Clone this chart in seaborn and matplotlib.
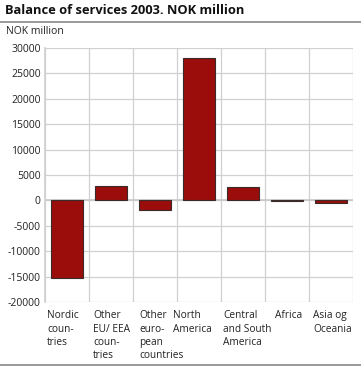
import matplotlib
matplotlib.use("Agg")
import matplotlib.pyplot as plt
import seaborn as sns
import pandas as pd

categories = ["Nordic\ncoun-\ntries", "Other\nEU/ EEA\ncoun-\ntries", "Other\neuro-\npean\ncountries",
              "North\nAmerica", "Central\nand South\nAmerica", "Africa", "Asia og\nOceania"]
values = [-15300, 2800, -1800, 28000, 2700, -100, -500]
yticks = list(range(-20000, 30001, 5000))

sns.set_theme(style="white")
plt.rcParams['font.family'] = ['Open Sans', 'DejaVu Sans']

W, H = 361, 368
fig = plt.figure(figsize=(W / 100, H / 100), dpi=100)
ax = fig.add_axes([45 / W, (H - 302) / H, (353 - 45) / W, (302 - 48) / H])

df = pd.DataFrame({"cat": categories, "val": values})
sns.barplot(data=df, x="cat", y="val", ax=ax, color="#9a0d0a", saturation=1,
            width=0.73, edgecolor="#3a2a2a", linewidth=0.8, zorder=3)

n = len(categories)
cat_px = (353 - 45) / n
label_shift_px = [2, 4, 6, -4, 2, 10, 4]
ax.set_xlim(-0.5, n - 0.5)
ax.set_ylim(-20000, 30000)
ax.set_yticks(yticks)
ax.set_yticklabels([str(v) for v in yticks], fontsize=7.5, color="#222222")
ax.set_xticks([i - 0.5 for i in range(n + 1)], minor=True)
ax.set_xticks([i - 0.5 + s / cat_px for i, s in enumerate(label_shift_px)])
ax.set_xticklabels(categories, fontsize=7.3, color="#222222", ha="left", va="top",
                   linespacing=1.28)
ax.tick_params(axis="x", which="both", length=0, pad=6)
ax.tick_params(axis="y", length=0, pad=3)
ax.grid(False)
ax.yaxis.grid(True, color="#d0d0d0", linewidth=0.9, zorder=0)
ax.xaxis.grid(True, which="minor", color="#d0d0d0", linewidth=0.9, zorder=0)
for s in ax.spines.values():
    s.set_visible(False)
ax.spines["left"].set_visible(True)
ax.spines["left"].set_color("#d0d0d0")
ax.axhline(0, color="#c8c8c8", linewidth=1.2, zorder=2)
ax.set_xlabel("")
ax.set_ylabel("")

fig.text(5 / W, 1 - 11 / H, "Balance of services 2003. NOK million", fontsize=9.3,
         fontweight="bold", va="center", ha="left", color="#111111")
fig.add_artist(plt.Line2D([0, 1], [1 - 22 / H, 1 - 22 / H], color="#888888", linewidth=1.2))
fig.add_artist(plt.Line2D([0, 1], [1 - 365 / H, 1 - 365 / H], color="#888888", linewidth=1.2))
fig.text(6 / W, 1 - 32 / H, "NOK million", fontsize=7.5, va="center", ha="left", color="#222222")

fig.savefig("out.png", dpi=100)
